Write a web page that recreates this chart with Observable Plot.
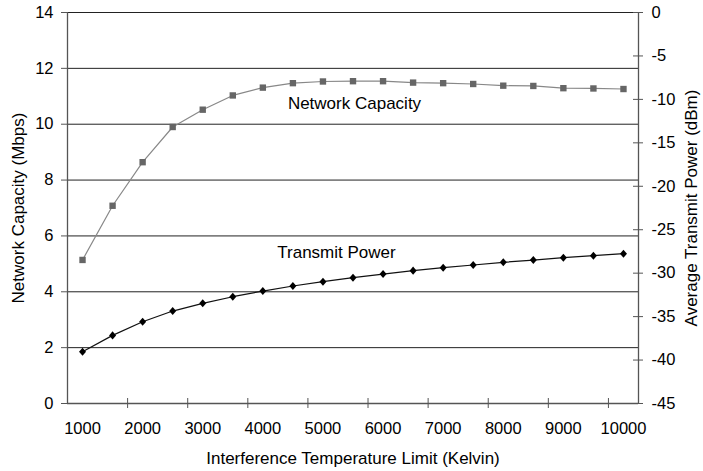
<!DOCTYPE html>
<html><head><meta charset="utf-8">
<script src="https://cdn.jsdelivr.net/npm/d3@7"></script>
<script src="https://cdn.jsdelivr.net/npm/@observablehq/plot@0.6"></script>
<style>body{margin:0;background:#fff}</style>
</head><body><div id="chart"></div>
<script>
const temps = [1000,1500,2000,2500,3000,3500,4000,4500,5000,5500,6000,6500,7000,7500,8000,8500,9000,9500,10000];
const capacity = [5.14,7.08,8.64,9.90,10.52,11.03,11.31,11.47,11.53,11.54,11.54,11.49,11.47,11.44,11.38,11.37,11.29,11.28,11.26];
const power = [-39.05,-37.16,-35.59,-34.36,-33.47,-32.71,-32.06,-31.48,-30.98,-30.52,-30.10,-29.71,-29.37,-29.06,-28.75,-28.49,-28.22,-27.99,-27.76];
const xLabels = [1000,2000,3000,4000,5000,6000,7000,8000,9000,10000];
const xTickMarks = [1750,2750,3750,4750,5750,6750,7750,8750,9750];
const leftTicks = [0,2,4,6,8,10,12,14];
const rightTicks = [0,-5,-10,-15,-20,-25,-30,-35,-40,-45];
const seriesLabels = [
  {x: 5525, y: 10.73, text: "Network Capacity"},
  {x: 5225, y: 5.39, text: "Transmit Power"}
];
const titles = {
  x: "Interference Temperature Limit (Kelvin)",
  yLeft: "Network Capacity (Mbps)",
  yRight: "Average Transmit Power (dBm)"
};

const xMin = 750, xMax = 10250;
const toLeft = p => (p + 45) * 14 / 45;

const capData = temps.map((t, i) => ({t, v: capacity[i]}));
const powData = temps.map((t, i) => ({t, v: toLeft(power[i])}));

const diamond = {
  draw(context, size) {
    const w = Math.sqrt(size / 2.3), h = 1.15 * w;
    context.moveTo(0, -h);
    context.lineTo(w, 0);
    context.lineTo(0, h);
    context.lineTo(-w, 0);
    context.closePath();
  }
};

const font = "'Liberation Sans', Arial, Helvetica, sans-serif";

const chart = Plot.plot({
  width: 703,
  height: 471,
  marginLeft: 67,
  marginRight: 65,
  marginTop: 12,
  marginBottom: 68,
  style: {fontFamily: font, fontSize: "16.5px", color: "#000", background: "#fff"},
  x: {domain: [xMin, xMax]},
  y: {domain: [0, 14]},
  marks: [
    Plot.ruleY(leftTicks.filter(d => d > 0), {stroke: "#222", strokeWidth: 1}),
    Plot.ruleX([xMin, xMax], {stroke: "#555", strokeWidth: 1.3}),
    Plot.ruleY([0], {stroke: "#555", strokeWidth: 1.3}),
    Plot.axisY({ticks: leftTicks, tickSize: 6, tickPadding: 8, tickFormat: d => String(d), label: null, stroke: "#555"}),
    Plot.axisY({anchor: "right", ticks: rightTicks.map(toLeft), tickSize: 0, tickPadding: 13, tickFormat: v => String(Math.round(v * 45 / 14 - 45)), label: null}),
    Plot.ruleY(rightTicks.map(toLeft), {x1: xMax, x2: xMax, insetLeft: -5, insetRight: -5, stroke: "#555"}),
    Plot.axisX({ticks: xLabels, tickSize: 0, tickPadding: 19, tickFormat: d => String(d), label: null}),
    Plot.ruleX(xTickMarks, {y1: 0, y2: 0, insetTop: -5, insetBottom: -5, stroke: "#555"}),
    Plot.line(capData, {x: "t", y: "v", stroke: "#888", strokeWidth: 1.2}),
    Plot.dot(capData, {x: "t", y: "v", symbol: "square", r: 3.6, fill: "#666", stroke: "none"}),
    Plot.line(powData, {x: "t", y: "v", stroke: "#111", strokeWidth: 1.2}),
    Plot.dot(powData, {x: "t", y: "v", symbol: diamond, r: 3.0, fill: "#000", stroke: "none"}),
    Plot.text(seriesLabels, {x: "x", y: "y", text: "text", fill: "#000", fontSize: 17}),
    Plot.text([titles.x], {frameAnchor: "bottom", textAnchor: "middle", lineAnchor: "middle", dy: 55, fill: "#000", fontSize: 17}),
    Plot.text([titles.yLeft], {frameAnchor: "left", textAnchor: "middle", lineAnchor: "middle", dx: -49, rotate: -90, fill: "#000", fontSize: 17}),
    Plot.text([titles.yRight], {frameAnchor: "right", textAnchor: "middle", lineAnchor: "middle", dx: 53, rotate: -90, fill: "#000", fontSize: 17})
  ]
});
document.getElementById("chart").appendChild(chart);
</script>
</body></html>
